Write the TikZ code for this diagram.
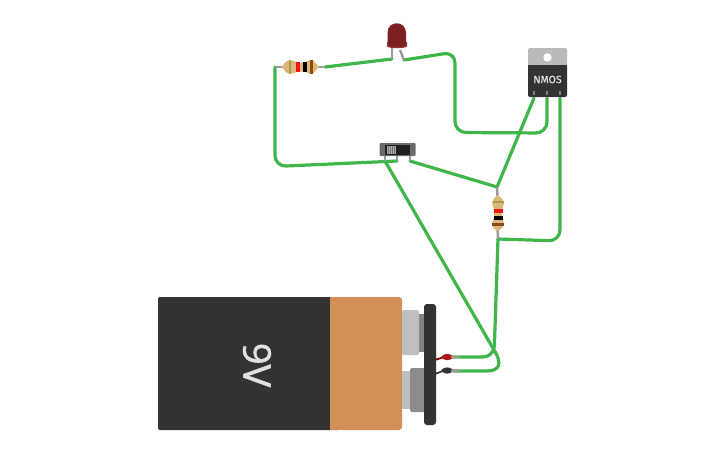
\documentclass[tikz,border=0pt]{standalone}
\usepackage{fontspec}
\setmainfont{Open Sans}
\newfontfamily\labelfont[FakeBold=0.6]{Fira Sans}
\newfontfamily\ninefont[FakeBold=1.6]{Open Sans}
\usetikzlibrary{calc}
\definecolor{wiregreen}{HTML}{3FB54A}
\definecolor{leadgrey}{HTML}{9A9A9A}
\definecolor{dark}{HTML}{333333}
\definecolor{orangeb}{HTML}{D28F56}
\definecolor{ledred}{HTML}{7E2022}
\definecolor{ledrim}{HTML}{8E3032}
\definecolor{rbody}{HTML}{DDB778}
\definecolor{rred}{HTML}{F01414}
\definecolor{rbrown}{HTML}{8A4A18}
\definecolor{rgold}{HTML}{A89A50}
\tikzset{
  wire/.style={draw=wiregreen,line width=3.2pt,rounded corners=11pt,line cap=round},
  pinlead/.style={draw=leadgrey,line width=2.4pt},
  rbodyst/.style={fill=rbody,draw=none},
  pt/.style={inner sep=0pt,minimum size=0pt}
}
\begin{document}
\begin{tikzpicture}[x=1pt,y=-1pt]
\useasboundingbox (0,0) rectangle (725,453);
% connection points
\coordinate (r1L) at (275,67);
\coordinate (r1R) at (325,67);
\coordinate (ledA) at (392,59);
\coordinate (ledK) at (404,60);
\coordinate (swA) at (385,161);
\coordinate (swB) at (397,161);
\coordinate (swC) at (410,161);
\coordinate (qG) at (534,98);
\coordinate (qD) at (547,98);
\coordinate (qS) at (560,98);
\coordinate (r2T) at (497,187);
\coordinate (r2B) at (498,239);
\coordinate (batP) at (453,357);
\coordinate (batN) at (453,371);

% battery
\fill[dark,rounded corners=2pt] (158,297) rectangle (340,430);
\fill[orangeb] (330,297) rectangle (350,430);
\fill[orangeb,rounded corners=3pt] (340,297) rectangle (402,430);
\node[pt,rotate=-90,text=white!88!black,font=\ninefont\fontsize{38}{38}\selectfont] (nine) at (257,365) {9V};
% battery terminals
\fill[leadgrey!85!black] (415,314) rectangle (425,352);
\fill[black!25,rounded corners=1.5pt] (402,310) rectangle (419,355);
\fill[black!25] (402,371) rectangle (411,409);
\fill[black!45,rounded corners=1.5pt] (410,368) rectangle (425,412);
% snap
\fill[dark,rounded corners=3pt] (424,304) rectangle (436,425);
\fill[red!60!black] (436,358.5) .. controls (440,358) and (441,356.5) .. (445,356) -- (445,358) .. controls (441,358) and (440,360) .. (436,360.5) -- cycle;
\fill[dark] (436,372.5) .. controls (440,372) and (441,370) .. (445,369.5) -- (445,371.5) .. controls (441,371.5) and (440,373.5) .. (436,374.5) -- cycle;
\fill[red!65!black!90!white] (441,357) .. controls (444,353) and (449,353) .. (453,356) -- (453,358) .. controls (449,361) and (444,361) .. (441,357) -- cycle;
\fill[dark] (441,370.5) .. controls (444,366.5) and (449,366.5) .. (453,369.5) -- (453,371.5) .. controls (449,374.5) and (444,374.5) .. (441,370.5) -- cycle;

% wires
\draw[wire] (r1L) -- (275,166.5) -- (swB);
\draw[wire] (r1R) -- (ledA);
\draw[wire] (ledK) -- (455,52) -- (455,132.5) -- (547,133) -- (qD);
\draw[wire] (qG) -- (r2T);
\draw[wire] (swC) -- (r2T);
\draw[wire] (qS) -- (560,241) -- (r2B);
\draw[wire] (r2B) -- (494,357) -- (batP);
\draw[wire,sharp corners] (swA) -- (494,350) .. controls (503,364) and (499,371) .. (487,371) -- (batN);
\draw[leadgrey,line width=2.4pt] (451,357) -- (460,357);
\draw[leadgrey,line width=2.4pt] (451,370.5) -- (460,370.8);

% resistor 1
\draw[leadgrey,line width=2.4pt] (r1L) -- (284,67);
\draw[leadgrey,line width=2.4pt] (316,67) -- (r1R);
\fill[rbodyst] (282,67) .. controls (285,62) and (287,60) .. (290,60) .. controls (293,60) and (295,62) .. (298,62.5) -- (305,62.5) .. controls (307,61) and (309,60) .. (311,60) .. controls (314,60) and (316,64) .. (319,67) .. controls (316,70) and (314,74) .. (311,74) .. controls (309,74) and (307,73) .. (305,71.5) -- (298,71.5) .. controls (295,72) and (293,74) .. (290,74) .. controls (287,74) and (285,72) .. (282,67) -- cycle;
\fill[rgold] (288.5,60) rectangle (290.5,74);
\fill[rred] (296,62) rectangle (300,72);
\fill[black] (303,62) rectangle (306.5,72);
\fill[rbrown] (309.5,60) rectangle (313,74);

% LED
\draw[pinlead] (ledA) -- (392,47);
\draw[pinlead] (ledK) -- (400,50);
\fill[ledrim] (387,42) -- (407,42) -- (407,46) .. controls (407,49) and (387,49) .. (387,46) -- cycle;
\fill[ledred] (387.5,44) -- (387.5,33) .. controls (387.5,20) and (406,20) .. (406,33) -- (406,44) .. controls (406,47.5) and (387.5,47.5) .. (387.5,44) -- cycle;

% NMOS
\draw[pinlead] (qG) -- (534,90);
\draw[pinlead] (qD) -- (547,90);
\draw[pinlead] (qS) -- (560,90);
\fill[black!27,rounded corners=1.5pt] (528,48) rectangle (567,70);
\fill[dark,rounded corners=2pt] (528,65) rectangle (567,97);
\fill[dark] (528,65) rectangle (567,68);
\fill[white] (547.5,57.5) circle (4.2);
\node[pt,text=white!88!black,font=\labelfont\fontsize{10.5}{11}\selectfont] (qlabel) at (547.5,79.5) {NMOS};
\fill[black!50] (533,91) rectangle (535,95);
\fill[black!50] (546,91) rectangle (548,95);
\fill[black!50] (559,91) rectangle (561,95);

% switch
\draw[pinlead] (swA) -- (385,155);
\draw[pinlead] (swB) -- (397,155);
\draw[pinlead] (swC) -- (410,155);
\fill[black!58,rounded corners=1pt] (379.5,143) rectangle (415.5,156);
\fill[black!88] (385,145) rectangle (410,154.5);
\fill[black!32] (386.5,146) rectangle (396,154);
\foreach \x in {388,390,392,394}{\fill[black!55] (\x,146) rectangle (\x+0.8,154);}

% resistor 2
\draw[leadgrey,line width=2.4pt] (r2T) -- (497.5,197);
\draw[leadgrey,line width=2.4pt] (497.5,228) -- (498,239);
\fill[rbodyst] (497.5,195) .. controls (502,198) and (504,200) .. (504,203) .. controls (504,206) and (502,208) .. (502,211) -- (502,217) .. controls (502,220) and (504,222) .. (504,224) .. controls (504,227) and (501,229) .. (497.5,231) .. controls (494,229) and (492,227) .. (492,224) .. controls (492,222) and (494,220) .. (494,217) -- (494,211) .. controls (494,208) and (492,206) .. (492,203) .. controls (492,200) and (494,198) .. (497.5,195) -- cycle;
\fill[rgold] (493,201) rectangle (504,203);
\fill[rred] (493.5,209) rectangle (502.5,213);
\fill[black] (493.5,216) rectangle (502.5,219.5);
\fill[rbrown] (492,222.5) rectangle (504,226);
\end{tikzpicture}
\end{document}
